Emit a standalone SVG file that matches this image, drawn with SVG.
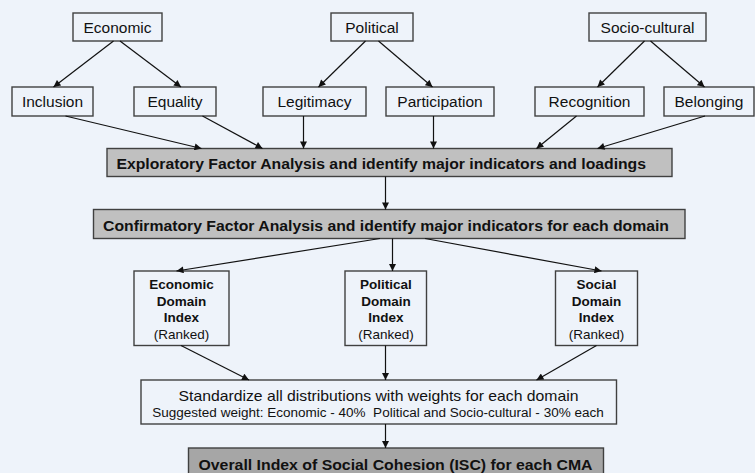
<svg xmlns="http://www.w3.org/2000/svg" width="755" height="473" viewBox="0 0 755 473">
<defs>
<style>
.bx{fill:#eef3fa;stroke:#404040;stroke-width:1.4}
.gr{fill:#c0c0c0;stroke:#404040;stroke-width:1.4}
.dk{fill:#a6a6a6;stroke:#404040;stroke-width:1.4}
.t{font-family:"Liberation Sans",Arial,sans-serif;font-size:15.5px;fill:#111;text-anchor:middle}
.b{font-family:"Liberation Sans",Arial,sans-serif;font-size:14px;font-weight:bold;fill:#111}
.d{font-family:"Liberation Sans",Arial,sans-serif;font-size:13.5px;fill:#111;text-anchor:middle}
.db{font-weight:bold}
.c line{stroke:#111;stroke-width:1.2;marker-end:url(#ah)}
</style>
<marker id="ah" viewBox="0 0 10 10" refX="10" refY="5" markerWidth="8" markerHeight="7" markerUnits="userSpaceOnUse" orient="auto">
<path d="M0,0 L10,5 L0,10 z" fill="#111"/>
</marker>
</defs>
<rect width="755" height="473" fill="#eef3fa"/>

<g id="economic"><rect class="bx" x="73" y="13" width="89" height="28"/><text class="t" x="117.5" y="33">Economic</text></g>
<g id="political"><rect class="bx" x="331" y="13" width="82" height="28"/><text class="t" x="372" y="33">Political</text></g>
<g id="sociocultural"><rect class="bx" x="589" y="13" width="117" height="28"/><text class="t" x="647.5" y="33">Socio-cultural</text></g>

<g id="inclusion"><rect class="bx" x="12" y="87" width="81" height="29"/><text class="t" x="52.5" y="107">Inclusion</text></g>
<g id="equality"><rect class="bx" x="134" y="87" width="82" height="29"/><text class="t" x="175" y="107">Equality</text></g>
<g id="legitimacy"><rect class="bx" x="263" y="87" width="103" height="29"/><text class="t" x="314.5" y="107">Legitimacy</text></g>
<g id="participation"><rect class="bx" x="386" y="87" width="108" height="29"/><text class="t" x="440" y="107">Participation</text></g>
<g id="recognition"><rect class="bx" x="535" y="87" width="109" height="29"/><text class="t" x="589.5" y="107">Recognition</text></g>
<g id="belonging"><rect class="bx" x="664" y="87" width="90" height="29"/><text class="t" x="709" y="107">Belonging</text></g>

<g id="efa"><rect class="gr" x="107" y="148.5" width="565" height="28"/><text class="b" x="116.5" y="169" textLength="529.5" lengthAdjust="spacingAndGlyphs">Exploratory Factor Analysis and identify major indicators and loadings</text></g>
<g id="cfa"><rect class="gr" x="93.5" y="209.5" width="591.5" height="29"/><text class="b" x="103" y="230.5" textLength="566" lengthAdjust="spacingAndGlyphs">Confirmatory Factor Analysis and identify major indicators for each domain</text></g>

<g id="econ-domain"><rect class="bx" x="134" y="271" width="95" height="74.5"/>
<text class="d db" x="181.5" y="289">Economic</text><text class="d db" x="181.5" y="305.5">Domain</text><text class="d db" x="181.5" y="322">Index</text><text class="d" x="181.5" y="338.5">(Ranked)</text></g>
<g id="pol-domain"><rect class="bx" x="345" y="271" width="81.5" height="74.5"/>
<text class="d db" x="386" y="289">Political</text><text class="d db" x="386" y="305.5">Domain</text><text class="d db" x="386" y="322">Index</text><text class="d" x="386" y="338.5">(Ranked)</text></g>
<g id="soc-domain"><rect class="bx" x="555.5" y="271" width="82" height="74.5"/>
<text class="d db" x="596.5" y="289">Social</text><text class="d db" x="596.5" y="305.5">Domain</text><text class="d db" x="596.5" y="322">Index</text><text class="d" x="596.5" y="338.5">(Ranked)</text></g>

<g id="standardize"><rect class="bx" x="141" y="380" width="475.5" height="44"/>
<text class="t" x="378.5" y="400.5" style="font-size:15px" textLength="400" lengthAdjust="spacingAndGlyphs">Standardize all distributions with weights for each domain</text>
<text class="t" x="378" y="416.5" style="font-size:12.5px" textLength="451.5" lengthAdjust="spacingAndGlyphs">Suggested weight: Economic - 40%&#160; Political and Socio-cultural - 30% each</text></g>
<g id="overall"><rect class="dk" x="188.5" y="448" width="415" height="30"/><text class="b" x="395.5" y="470" text-anchor="middle" textLength="394" lengthAdjust="spacingAndGlyphs">Overall Index of Social Cohesion (ISC) for each CMA</text></g>

<g class="c" id="connectors">
<line x1="113.5" y1="41" x2="53.5" y2="87"/>
<line x1="120" y1="41" x2="181" y2="87"/>
<line x1="365.5" y1="41" x2="318.5" y2="87"/>
<line x1="378.5" y1="41" x2="432.5" y2="87"/>
<line x1="644.5" y1="41" x2="597.5" y2="87"/>
<line x1="650.5" y1="41" x2="704.5" y2="87"/>
<line x1="65.5" y1="116" x2="201.5" y2="148.5"/>
<line x1="202.5" y1="116" x2="262.5" y2="148.5"/>
<line x1="303.5" y1="116" x2="303.5" y2="148.5"/>
<line x1="433.5" y1="116" x2="433.5" y2="148.5"/>
<line x1="576.5" y1="116" x2="536.5" y2="148.5"/>
<line x1="705" y1="116" x2="597.5" y2="148.5"/>
<line x1="385.5" y1="176.5" x2="385.5" y2="209.5"/>
<line x1="380" y1="238.5" x2="176.5" y2="271"/>
<line x1="392.5" y1="238.5" x2="392.5" y2="271"/>
<line x1="425" y1="238.5" x2="601.5" y2="271"/>
<line x1="181" y1="345.5" x2="249" y2="380"/>
<line x1="385.5" y1="345.5" x2="385.5" y2="380"/>
<line x1="596.5" y1="345.5" x2="536.5" y2="380"/>
<line x1="385.5" y1="424" x2="385.5" y2="448"/>
</g>
</svg>
